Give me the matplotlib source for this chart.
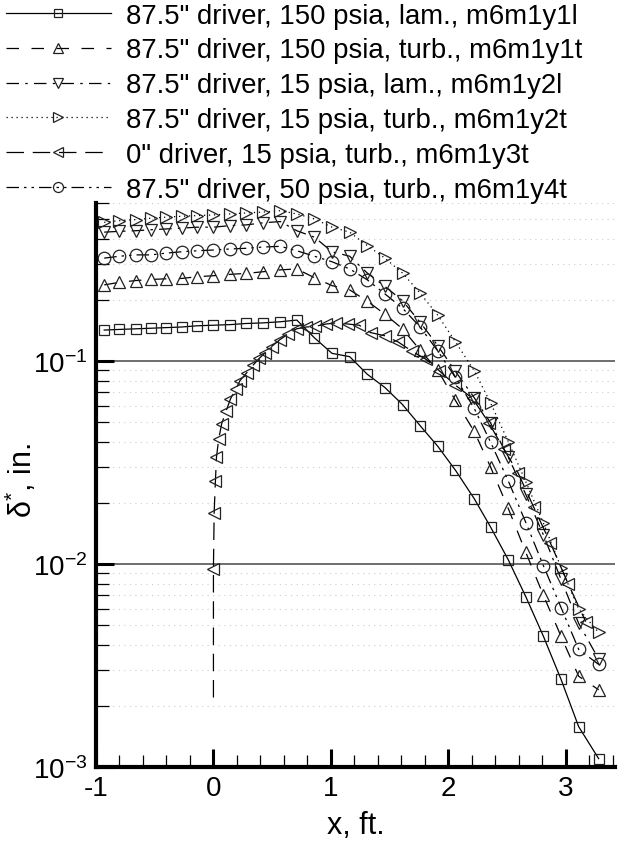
import numpy as np
import matplotlib
matplotlib.use("Agg")
import matplotlib.pyplot as plt
from matplotlib.ticker import LogLocator, NullFormatter, MultipleLocator

plt.rcParams["font.family"] = ["Liberation Sans", "DejaVu Sans"]
plt.rcParams["mathtext.fontset"] = "custom"
plt.rcParams["mathtext.rm"] = "Liberation Sans"
plt.rcParams["mathtext.it"] = "Liberation Sans:italic"
plt.rcParams["axes.unicode_minus"] = False

# marker stations (ft) shared by the 87.5" driver runs
x_std = [-0.93, -0.80, -0.66, -0.53, -0.40, -0.27, -0.14, 0.00, 0.14, 0.28, 0.42,
         0.57, 0.71, 0.86, 1.01, 1.16, 1.31, 1.46, 1.61, 1.76, 1.91, 2.06, 2.22,
         2.36, 2.51, 2.66, 2.81, 2.96, 3.11, 3.28]

# m6m1y1l  87.5" driver, 150 psia, lam.
y_1l = [0.142, 0.143, 0.144, 0.145, 0.146, 0.147, 0.149, 0.150, 0.151, 0.153, 0.154,
        0.156, 0.159, 0.130, 0.109, 0.105, 0.086, 0.074, 0.061, 0.048, 0.038, 0.029, 0.021,
        0.0152, 0.0105, 0.0069, 0.0044, 0.0027, 0.00158, 0.0011]
# m6m1y1t  87.5" driver, 150 psia, turb.
y_1t = [0.237, 0.244, 0.249, 0.252, 0.254, 0.255, 0.260, 0.263, 0.267, 0.270, 0.275,
        0.281, 0.284, 0.257, 0.235, 0.224, 0.197, 0.170, 0.144, 0.113, 0.090, 0.064, 0.045,
        0.030, 0.0188, 0.0114, 0.0070, 0.0044, 0.0028, 0.0024]
# m6m1y2l  87.5" driver, 15 psia, lam.
y_2l = [0.431, 0.435, 0.438, 0.443, 0.447, 0.451, 0.456, 0.456, 0.464, 0.468, 0.479,
        0.486, 0.438, 0.407, 0.345, 0.328, 0.271, 0.233, 0.198, 0.155, 0.119, 0.089, 0.066,
        0.0495, 0.0336, 0.0220, 0.0139, 0.0084, 0.0051, 0.0034]
# m6m1y2t  87.5" driver, 15 psia, turb.
y_2t = [0.482, 0.491, 0.497, 0.505, 0.511, 0.516, 0.520, 0.524, 0.530, 0.536, 0.541,
        0.550, 0.530, 0.501, 0.456, 0.431, 0.370, 0.321, 0.271, 0.216, 0.168, 0.1245, 0.0896,
        0.0621, 0.0401, 0.0254, 0.0159, 0.0096, 0.0060, 0.0046]
# m6m1y4t  87.5" driver, 50 psia, turb.
y_4t = [0.321, 0.328, 0.333, 0.333, 0.340, 0.345, 0.349, 0.352, 0.356, 0.359, 0.364,
        0.367, 0.349, 0.328, 0.308, 0.284, 0.251, 0.214, 0.182, 0.147, 0.112, 0.083, 0.0585,
        0.0398, 0.0257, 0.0160, 0.0098, 0.0061, 0.0038, 0.0032]

# m6m1y3t  0" driver, 15 psia, turb.
x_3t = [0.0, 0.006, 0.017, 0.026, 0.045, 0.07, 0.107, 0.145, 0.191, 0.226, 0.282, 0.339,
        0.39, 0.438, 0.495, 0.566, 0.636, 0.708, 0.79, 0.864, 0.957, 1.043, 1.147, 1.241,
        1.338, 1.46, 1.573, 1.687, 1.809, 1.922, 2.06, 2.206, 2.345, 2.47, 2.594, 2.728,
        2.869, 3.02, 3.17]
y_3t = [0.00945, 0.0178, 0.0257, 0.0337, 0.0413, 0.049, 0.0565, 0.065, 0.0728, 0.080,
        0.0873, 0.0955, 0.103, 0.1094, 0.1178, 0.1274, 0.1358, 0.144, 0.147, 0.148, 0.152,
        0.154, 0.152, 0.150, 0.138, 0.133, 0.124, 0.112, 0.102, 0.0896, 0.076, 0.0655,
        0.0496, 0.037, 0.0281, 0.019, 0.0127, 0.0080, 0.0052]
y_3t_start = 0.0022   # dashed line starts here at x = 0

labels = ['87.5" driver, 150 psia, lam., m6m1y1l',
          '87.5" driver, 150 psia, turb., m6m1y1t',
          '87.5" driver, 15 psia, lam., m6m1y2l',
          '87.5" driver, 15 psia, turb., m6m1y2t',
          '0" driver, 15 psia, turb., m6m1y3t',
          '87.5" driver, 50 psia, turb., m6m1y4t']

fig = plt.figure(figsize=(6.27, 8.45), dpi=100)
ax = fig.add_axes([0.1531, 0.0911, 0.8279, 0.6675])

mk = dict(mfc="none", mec="#222222", mew=0.9, color="black", lw=0.9)
h1, = ax.plot(x_std, y_1l, ls="-", marker="s", ms=7, **mk)
h2, = ax.plot(x_std, y_1t, dashes=(10, 10), marker="^", ms=8.5, **mk)
h3, = ax.plot(x_std, y_2l, dashes=(10, 5, 2, 5), marker="v", ms=8.5, **mk)
h4, = ax.plot(x_std, y_2t, dashes=(1, 3), marker=">", ms=8.5, **mk)
ax.plot([0.0] + x_3t, [y_3t_start] + y_3t, dashes=(14, 7), color="black", lw=0.9)
ax.plot(x_3t, y_3t, ls="none", marker="<", ms=8.5, mfc="none", mec="#222222", mew=0.9)
h5, = ax.plot([], [], dashes=(14, 7), marker="<", ms=8.5, **mk)
h6, = ax.plot(x_std, y_4t, dashes=(10, 4, 2, 4, 2, 4), marker="o", ms=9, **mk)

ax.set_yscale("log")
ax.set_xlim(-1, 3.42)
ax.set_ylim(1e-3, 0.6)

ax.xaxis.set_major_locator(MultipleLocator(1))
ax.xaxis.set_minor_locator(MultipleLocator(0.2))
ax.yaxis.set_major_locator(LogLocator(base=10, numticks=10))
ax.yaxis.set_minor_locator(LogLocator(base=10, subs=np.arange(2, 10), numticks=20))
ax.yaxis.set_minor_formatter(NullFormatter())

ax.yaxis.grid(True, which="major", color="#555555", lw=1.2, ls="-")
ax.yaxis.grid(True, which="minor", color="#cccccc", lw=0.8, dashes=(1, 4))
ax.set_axisbelow(True)

for s in ("top", "right"):
    ax.spines[s].set_visible(False)
for s in ("left", "bottom"):
    ax.spines[s].set_linewidth(3)

ax.tick_params(which="major", direction="in", length=13, width=2.2, labelsize=20, pad=6)
ax.tick_params(which="minor", direction="in", length=9, width=0.9)

ax.set_xlabel("x, ft.", fontsize=22, labelpad=6)
ax.set_ylabel("δ$^{*}$, in.", fontsize=22)
ax.yaxis.set_label_coords(-0.11, 0.51)

fig.legend([h1, h2, h3, h4, h5, h6], labels, loc="upper left",
           bbox_to_anchor=(-0.012, 1.012), frameon=False, fontsize=19.8,
           handlelength=3.8, handletextpad=0.55, labelspacing=0.32,
           borderaxespad=0.1, numpoints=1, markerscale=0.8)

fig.savefig("out.png", dpi=100)
